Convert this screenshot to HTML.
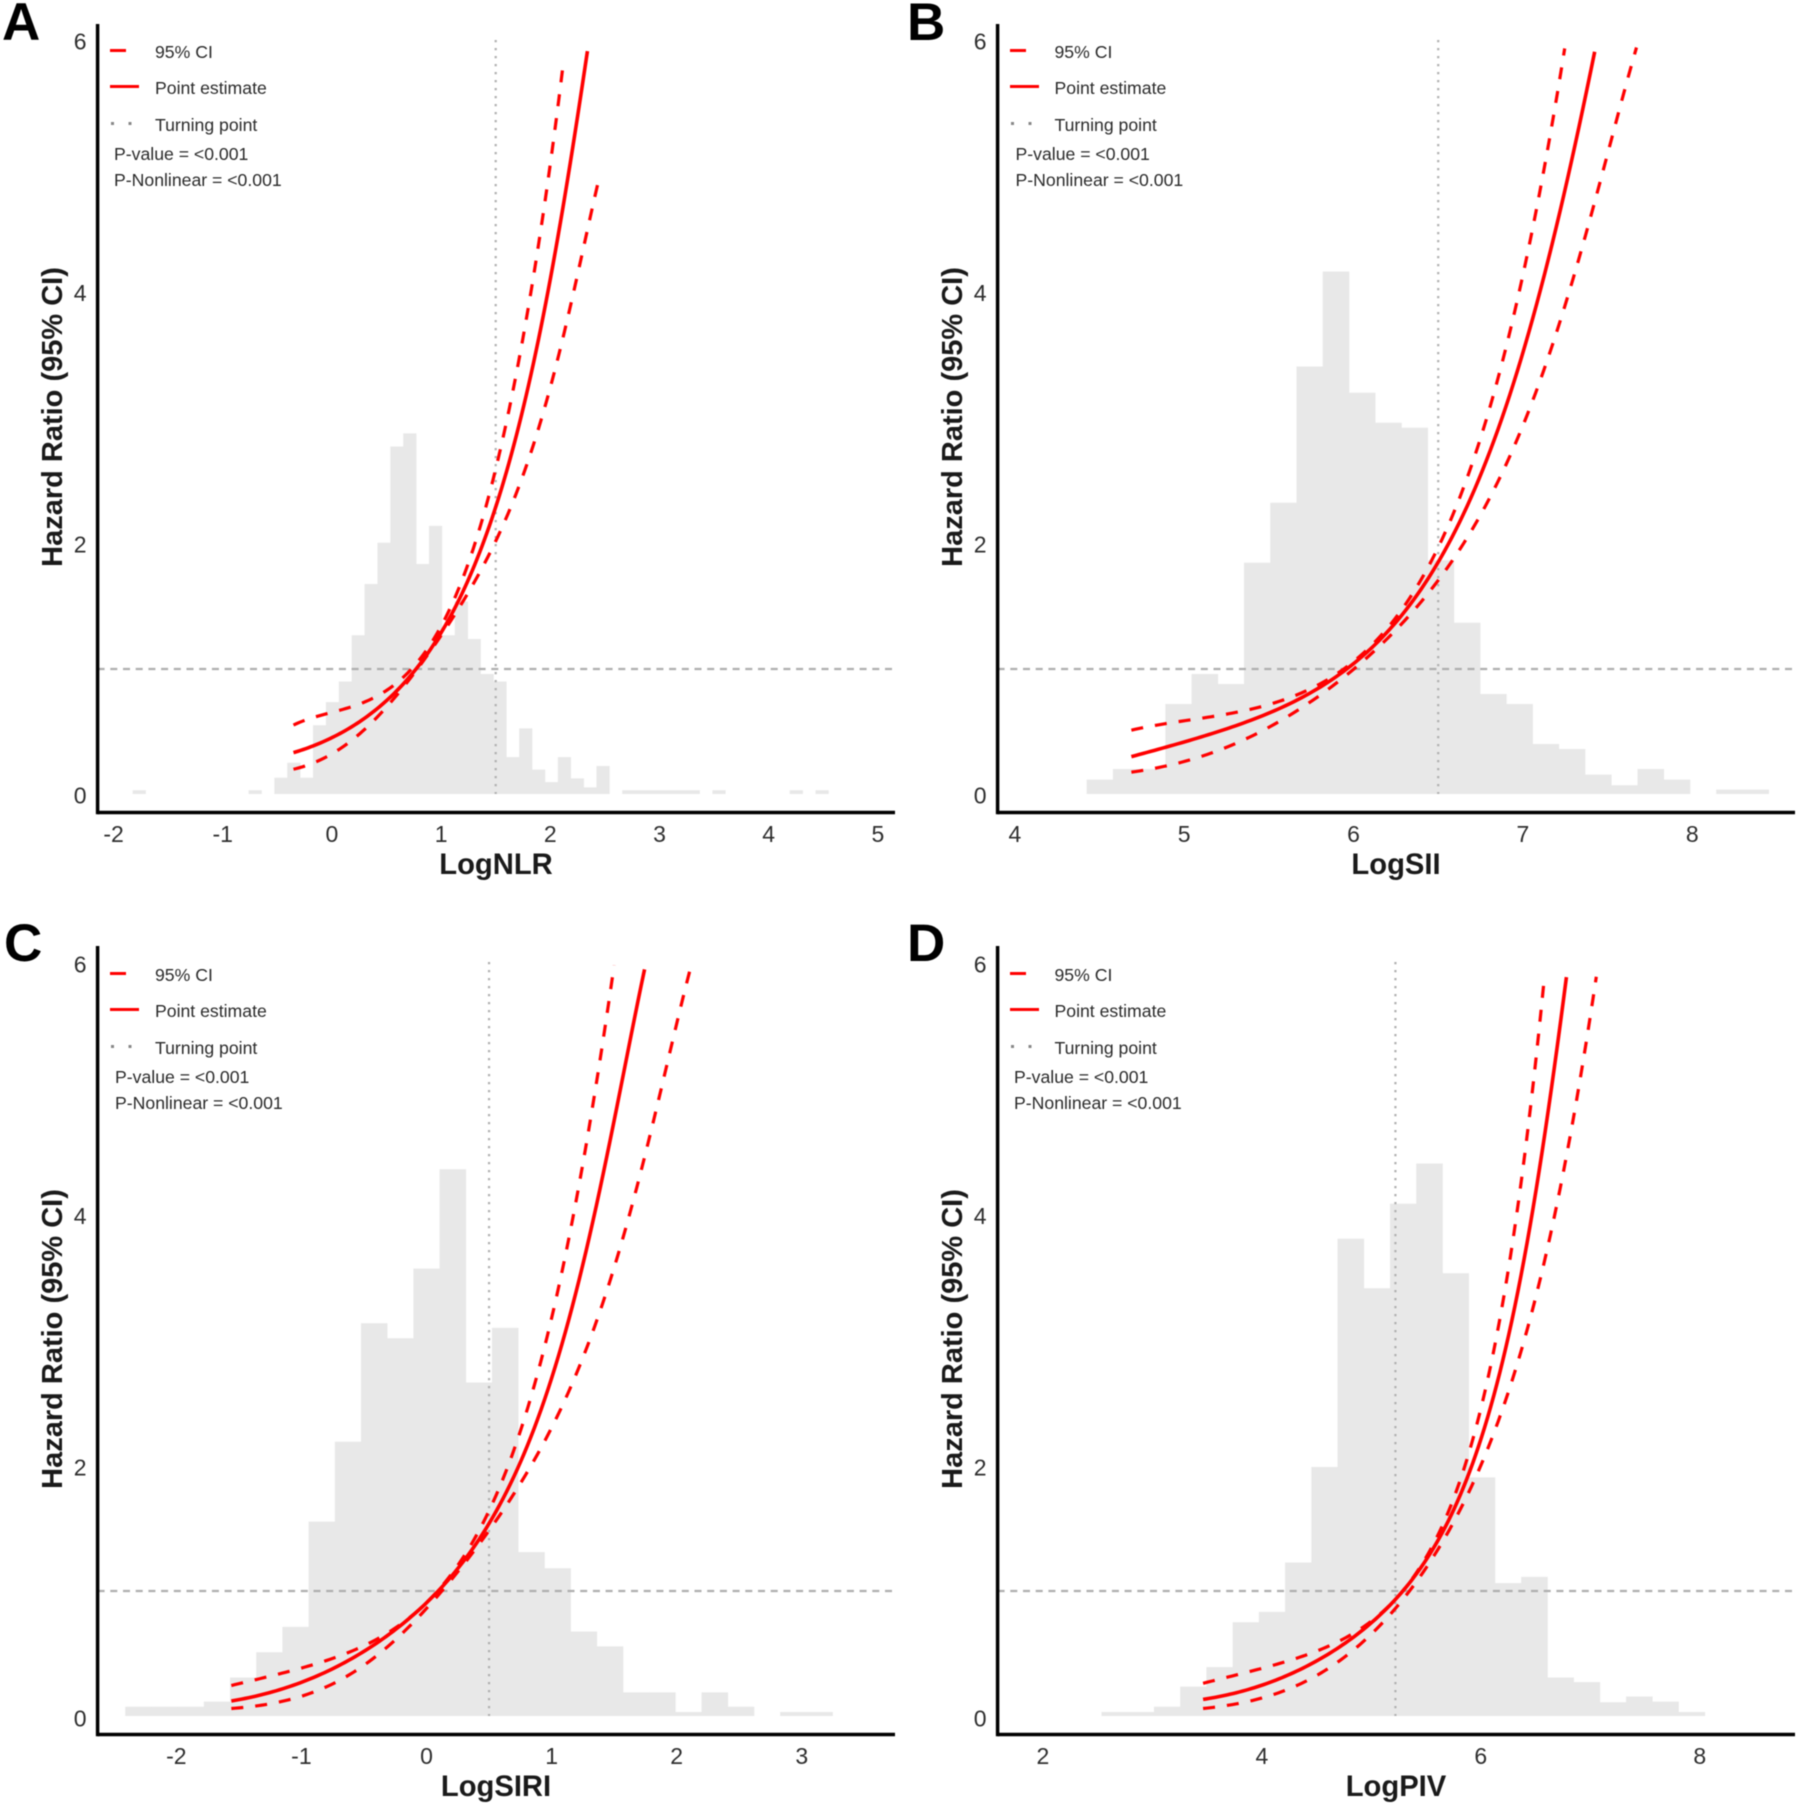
<!DOCTYPE html>
<html lang="en">
<head>
<meta charset="utf-8">
<title>Hazard ratio restricted cubic spline panels</title>
<style>
  html, body { margin: 0; padding: 0; background: #ffffff; }
  body { width: 1800px; height: 1807px; overflow: hidden; }
  svg { display: block; filter: blur(0.55px); font-family: "Liberation Sans", Arial, sans-serif; }
  .letter { font-size: 53px; font-weight: 700; fill: #000; }
  .ytitle, .xtitle { font-size: 29px; font-weight: 700; fill: #1a1a1a; }
  .xtitle { font-size: 29.2px; }
  .legend { font-size: 17.65px; fill: #2b2b2b; }
  .tick { font-size: 23px; fill: #2e2e2e; }
</style>
</head>
<body>
<svg id="chart" xmlns="http://www.w3.org/2000/svg" width="1800" height="1807" viewBox="0 0 1800 1807">
  <rect x="0" y="0" width="1800" height="1807" fill="#fff"/>

  <g id="panel-a">
    <g class="marks"></g>
    <text class="letter" x="2" y="40">A</text>
    <text class="ytitle" text-anchor="middle" transform="translate(62,417) rotate(-90)">Hazard Ratio (95% CI)</text>
    <text class="xtitle" text-anchor="middle" x="496" y="874">LogNLR</text>
    <g>
      <line x1="110" x2="126" y1="50.5" y2="50.5" stroke="#f00" stroke-width="3"/>
      <text class="legend" x="155" y="58">95% CI</text>
      <line x1="110" x2="139" y1="86.5" y2="86.5" stroke="#f00" stroke-width="3"/>
      <text class="legend" x="155" y="94">Point estimate</text>
      <line x1="111" x2="132" y1="123.5" y2="123.5" stroke="#888" stroke-width="3" stroke-dasharray="3 14.5"/>
      <text class="legend" x="155" y="131">Turning point</text>
      <text class="legend" x="114" y="160">P-value = &lt;0.001</text>
      <text class="legend" x="114" y="186">P-Nonlinear = &lt;0.001</text>
    </g>
  </g>

  <g id="panel-b">
    <g class="marks"></g>
    <text class="letter" x="907" y="40">B</text>
    <text class="ytitle" text-anchor="middle" transform="translate(962,417) rotate(-90)">Hazard Ratio (95% CI)</text>
    <text class="xtitle" text-anchor="middle" x="1396" y="874">LogSII</text>
    <g>
      <line x1="1010" x2="1026" y1="50.5" y2="50.5" stroke="#f00" stroke-width="3"/>
      <text class="legend" x="1054.5" y="58">95% CI</text>
      <line x1="1010" x2="1039" y1="86.5" y2="86.5" stroke="#f00" stroke-width="3"/>
      <text class="legend" x="1054.5" y="94">Point estimate</text>
      <line x1="1011" x2="1032" y1="123.5" y2="123.5" stroke="#888" stroke-width="3" stroke-dasharray="3 14.5"/>
      <text class="legend" x="1054.5" y="131">Turning point</text>
      <text class="legend" x="1015.5" y="160">P-value = &lt;0.001</text>
      <text class="legend" x="1015.5" y="186">P-Nonlinear = &lt;0.001</text>
    </g>
  </g>

  <g id="panel-c">
    <g class="marks"></g>
    <text class="letter" x="4" y="961">C</text>
    <text class="ytitle" text-anchor="middle" transform="translate(62,1339) rotate(-90)">Hazard Ratio (95% CI)</text>
    <text class="xtitle" text-anchor="middle" x="496" y="1796">LogSIRI</text>
    <g>
      <line x1="110" x2="126" y1="973.5" y2="973.5" stroke="#f00" stroke-width="3"/>
      <text class="legend" x="155" y="981">95% CI</text>
      <line x1="110" x2="139" y1="1009.5" y2="1009.5" stroke="#f00" stroke-width="3"/>
      <text class="legend" x="155" y="1017">Point estimate</text>
      <line x1="111" x2="132" y1="1046.5" y2="1046.5" stroke="#888" stroke-width="3" stroke-dasharray="3 14.5"/>
      <text class="legend" x="155" y="1054">Turning point</text>
      <text class="legend" x="115" y="1083">P-value = &lt;0.001</text>
      <text class="legend" x="115" y="1109">P-Nonlinear = &lt;0.001</text>
    </g>
  </g>

  <g id="panel-d">
    <g class="marks"></g>
    <text class="letter" x="907" y="961">D</text>
    <text class="ytitle" text-anchor="middle" transform="translate(962,1339) rotate(-90)">Hazard Ratio (95% CI)</text>
    <text class="xtitle" text-anchor="middle" x="1396" y="1796">LogPIV</text>
    <g>
      <line x1="1010" x2="1026" y1="973.5" y2="973.5" stroke="#f00" stroke-width="3"/>
      <text class="legend" x="1054.5" y="981">95% CI</text>
      <line x1="1010" x2="1039" y1="1009.5" y2="1009.5" stroke="#f00" stroke-width="3"/>
      <text class="legend" x="1054.5" y="1017">Point estimate</text>
      <line x1="1011" x2="1032" y1="1046.5" y2="1046.5" stroke="#888" stroke-width="3" stroke-dasharray="3 14.5"/>
      <text class="legend" x="1054.5" y="1054">Turning point</text>
      <text class="legend" x="1014" y="1083">P-value = &lt;0.001</text>
      <text class="legend" x="1014" y="1109">P-Nonlinear = &lt;0.001</text>
    </g>
  </g>
</svg>

<script>
// ---------- shared tick labels ----------
const yTicks = [0, 2, 4, 6];
const referenceHR = 1;

// ---------- panel A: LogNLR ----------
const aXTicks = [-2, -1, 0, 1, 2, 3, 4, 5];
const aTurning = 1.5;
const aHistStart = -1.825;
const aHistWidth = 0.118;
const aHist = [0.03, 0, 0, 0, 0, 0, 0, 0, 0, 0.03, 0, 0.13, 0.25, 0.13, 0.55, 0.735, 0.90, 1.27, 1.68, 2.01, 2.78, 2.885, 1.84, 2.145, 1.27, 1.54, 1.24, 0.96, 0.90, 0.295, 0.525, 0.195, 0.095, 0.295, 0.125, 0.053, 0.224, 0, 0.03, 0.03, 0.03, 0.03, 0.03, 0.03, 0, 0.03, 0, 0, 0, 0, 0, 0.03, 0, 0.03];
const aEstX = [-0.352, 0.011, 0.379, 0.778, 0.988, 1.167, 1.493, 1.740, 1.956, 2.087, 2.219, 2.340];
const aEstY = [0.331, 0.46, 0.649, 1.007, 1.288, 1.555, 2.30, 2.995, 3.878, 4.568, 5.373, 5.936];
const aUpperX = [-0.352, -0.110, 0.105, 0.499, 0.683, 0.962, 1.067, 1.236, 1.372, 1.509, 1.604, 1.756, 1.877, 1.956, 2.061, 2.119];
const aUpperY = [0.552, 0.621, 0.685, 0.837, 0.938, 1.288, 1.458, 1.822, 2.212, 2.594, 2.995, 3.648, 4.338, 4.798, 5.419, 5.846];
const aLowerX = [-0.352, -0.110, 0.105, 0.273, 0.442, 0.578, 0.962, 1.141, 1.283, 1.477, 1.661, 1.814, 2.008, 2.140, 2.324, 2.455];
const aLowerY = [0.198, 0.271, 0.377, 0.497, 0.635, 0.791, 1.233, 1.421, 1.633, 2.010, 2.369, 2.728, 3.303, 3.671, 4.430, 4.959];

// ---------- panel B: LogSII ----------
const bXTicks = [4, 5, 6, 7, 8];
const bTurning = 6.5;
const bHistStart = 4.424;
const bHistWidth = 0.1549;
const bHist = [0.115, 0.2, 0.2, 0.72, 0.96, 0.88, 1.85, 2.33, 3.42, 4.18, 3.21, 2.97, 2.93, 1.87, 1.37, 0.8, 0.72, 0.4, 0.36, 0.155, 0.07, 0.2, 0.115, 0, 0.035, 0.035];
const bEstX = [4.688, 5.017, 5.356, 5.695, 5.898, 6.034, 6.136, 6.271, 6.458, 6.610, 6.712, 6.847, 7.0, 7.153, 7.254, 7.356, 7.424];
const bEstY = [0.299, 0.419, 0.575, 0.787, 0.934, 1.063, 1.187, 1.394, 1.831, 2.153, 2.406, 2.866, 3.51, 4.292, 4.89, 5.488, 5.938];
const bUpperX = [4.688, 4.949, 5.220, 5.492, 5.763, 6.034, 6.237, 6.424, 6.576, 6.695, 6.78, 6.881, 6.966, 7.051, 7.136, 7.22, 7.247];
const bUpperY = [0.511, 0.566, 0.635, 0.727, 0.851, 1.072, 1.371, 1.831, 2.176, 2.636, 3.004, 3.51, 3.924, 4.384, 5.028, 5.764, 5.97];
const bLowerX = [4.688, 4.949, 5.220, 5.492, 5.695, 5.898, 6.136, 6.305, 6.508, 6.678, 6.847, 7.017, 7.153, 7.288, 7.424, 7.559, 7.671];
const bLowerY = [0.175, 0.244, 0.359, 0.52, 0.681, 0.911, 1.164, 1.394, 1.716, 2.038, 2.498, 3.004, 3.51, 4.108, 4.706, 5.442, 5.971];

// ---------- panel C: LogSIRI ----------
const cXTicks = [-2, -1, 0, 1, 2, 3];
const cTurning = 0.5;
const cHistStart = -2.408;
const cHistWidth = 0.2094;
const cHist = [0.074, 0.074, 0.074, 0.115, 0.308, 0.51, 0.713, 1.555, 2.194, 3.142, 3.022, 3.579, 4.374, 2.668, 3.105, 1.311, 1.182, 0.676, 0.557, 0.189, 0.189, 0.032, 0.189, 0.074, 0, 0.032, 0.032];
const cEstX = [-1.56, -1.252, -0.931, -0.61, -0.289, -0.014, 0.216, 0.353, 0.491, 0.72, 0.95, 1.133, 1.317, 1.454, 1.592, 1.743];
const cEstY = [0.12, 0.189, 0.294, 0.455, 0.662, 0.869, 1.145, 1.352, 1.536, 1.95, 2.479, 3.169, 3.905, 4.595, 5.239, 5.97];
const cUpperX = [-1.56, -1.252, -0.931, -0.61, -0.289, -0.105, 0.078, 0.33, 0.537, 0.743, 0.904, 1.041, 1.179, 1.271, 1.362, 1.431, 1.5];
const cUpperY = [0.244, 0.317, 0.40, 0.524, 0.685, 0.787, 0.984, 1.352, 1.697, 2.295, 2.801, 3.353, 3.997, 4.549, 5.055, 5.561, 6.007];
const cLowerX = [-1.56, -1.252, -0.931, -0.61, -0.289, -0.083, 0.216, 0.445, 0.628, 0.812, 0.995, 1.179, 1.362, 1.546, 1.729, 1.913, 2.11];
const cLowerY = [0.06, 0.097, 0.179, 0.34, 0.58, 0.754, 1.122, 1.398, 1.651, 1.973, 2.341, 2.663, 3.192, 3.721, 4.411, 5.147, 5.984];

// ---------- panel D: LogPIV ----------
const dXTicks = [2, 4, 6, 8];
const dTurning = 5.22;
const dHistStart = 2.535;
const dHistWidth = 0.2396;
const dHist = [0.032, 0.032, 0.074, 0.235, 0.391, 0.75, 0.833, 1.228, 1.992, 3.818, 3.422, 4.098, 4.42, 3.542, 1.909, 1.063, 1.113, 0.308, 0.271, 0.11, 0.156, 0.115, 0.032];
const dEstX = [3.463, 3.841, 4.208, 4.575, 4.889, 5.152, 5.309, 5.492, 5.623, 5.807, 5.99, 6.2, 6.358, 6.515, 6.62, 6.698, 6.782];
const dEstY = [0.133, 0.202, 0.317, 0.478, 0.676, 0.869, 1.007, 1.214, 1.421, 1.789, 2.249, 2.847, 3.399, 4.181, 4.917, 5.469, 5.906];
const dUpperX = [3.463, 3.841, 4.26, 4.679, 4.994, 5.204, 5.492, 5.597, 5.755, 5.938, 6.095, 6.2, 6.305, 6.41, 6.489, 6.541, 6.583];
const dUpperY = [0.262, 0.34, 0.455, 0.584, 0.754, 0.915, 1.237, 1.421, 1.789, 2.295, 2.801, 3.307, 3.767, 4.549, 5.193, 5.607, 5.929];
const dLowerX = [3.463, 3.841, 4.26, 4.627, 4.942, 5.152, 5.414, 5.649, 5.886, 6.148, 6.358, 6.567, 6.725, 6.856, 6.961, 7.055];
const dLowerY = [0.06, 0.11, 0.225, 0.386, 0.593, 0.80, 1.099, 1.421, 1.789, 2.249, 2.847, 3.629, 4.273, 4.871, 5.423, 5.906];

const SVGNS = 'http://www.w3.org/2000/svg';

function linearScale(d0, d1, r0, r1) {
  return function (v) { return r0 + (v - d0) * (r1 - r0) / (d1 - d0); };
}

function create(parent, tag, attrs) {
  const el = document.createElementNS(SVGNS, tag);
  for (const k in attrs) el.setAttribute(k, attrs[k]);
  parent.appendChild(el);
  return el;
}

// Least-squares smoothing of the read-off points (log y on x), since the
// hazard ratio curves are smooth on the log scale and hand readings are noisy.
// The two end readings get extra weight so each curve stops where it does in the figure.
function fitLogCurve(xs, ys, degree) {
  const lo = xs[0], hi = xs[xs.length - 1];
  const norm = function (x) { return (2 * x - lo - hi) / (hi - lo); };
  const n = degree + 1;
  const A = [];
  for (let r = 0; r < n; r++) { A.push(new Array(n + 1).fill(0)); }
  xs.forEach(function (x, i) {
    const t = norm(x), ly = Math.log(ys[i]);
    const w = (i === 0 || i === xs.length - 1) ? 12 : 1;
    for (let r = 0; r < n; r++) {
      for (let c = 0; c < n; c++) A[r][c] += w * Math.pow(t, r + c);
      A[r][n] += w * Math.pow(t, r) * ly;
    }
  });
  for (let p = 0; p < n; p++) {
    let best = p;
    for (let r = p + 1; r < n; r++) if (Math.abs(A[r][p]) > Math.abs(A[best][p])) best = r;
    const tmp = A[p]; A[p] = A[best]; A[best] = tmp;
    for (let r = 0; r < n; r++) {
      if (r === p) continue;
      const f = A[r][p] / A[p][p];
      for (let c = p; c <= n; c++) A[r][c] -= f * A[p][c];
    }
  }
  const coef = A.map(function (row, i) { return row[n] / row[i]; });
  return function (x) {
    const t = norm(x);
    let s = 0;
    for (let i = n - 1; i >= 0; i--) s = s * t + coef[i];
    return Math.exp(s);
  };
}

function curvePath(xs, ys, sx, sy) {
  const f = fitLogCurve(xs, ys, 5);
  const lo = xs[0], hi = xs[xs.length - 1], steps = 120;
  let d = '';
  for (let i = 0; i <= steps; i++) {
    const x = lo + (hi - lo) * i / steps;
    d += (i ? 'L' : 'M') + sx(x).toFixed(2) + ' ' + sy(f(x)).toFixed(2);
  }
  return d;
}

function drawPanel(cfg) {
  const g = document.querySelector('#' + cfg.id + ' .marks');
  const dx = cfg.left, dy = cfg.offsetY;
  const axisLeft = dx + 97.6, axisRight = dx + 895;
  const axisTop = dy + 24, axisBottom = dy + 812.5;
  const sx = linearScale(cfg.xDomain[0], cfg.xDomain[1], axisLeft, axisRight);
  const sy = linearScale(0, 6, dy + 794, dy + 44);
  const syLabel = linearScale(0, 6, dy + cfg.labelShift + 803.6, dy + cfg.labelShift + 49.7);

  // histogram
  cfg.hist.forEach(function (h, i) {
    if (h <= 0) return;
    const x0 = sx(cfg.histStart + i * cfg.histWidth);
    const x1 = sx(cfg.histStart + (i + 1) * cfg.histWidth);
    const bar = create(g, 'rect', { x: x0, y: sy(h), width: x1 - x0 + 0.3, height: sy(0) - sy(h), fill: '#e8e8e8' });
    
    
  });

  // reference line HR = 1
  const hline = create(g, 'line', { x1: axisLeft, x2: axisRight, y1: sy(referenceHR), y2: sy(referenceHR), stroke: '#aeaeae', 'stroke-width': 2.2, 'stroke-dasharray': '7 5.7' });
  
  

  // turning point
  const vline = create(g, 'line', { x1: sx(cfg.turning), x2: sx(cfg.turning), y1: sy(6) - 4, y2: sy(0), stroke: '#b0b0b0', 'stroke-width': 2.2, 'stroke-dasharray': '2.2 5.8' });
  
  

  // confidence limits and estimate
  const upper = create(g, 'path', { d: curvePath(cfg.upperX, cfg.upperY, sx, sy), fill: 'none', stroke: '#ff0000', 'stroke-width': 3.2, 'stroke-dasharray': '12 12' });
  
  
  const lower = create(g, 'path', { d: curvePath(cfg.lowerX, cfg.lowerY, sx, sy), fill: 'none', stroke: '#ff0000', 'stroke-width': 3.2, 'stroke-dasharray': '12 12' });
  
  
  const est = create(g, 'path', { d: curvePath(cfg.estX, cfg.estY, sx, sy), fill: 'none', stroke: '#ff0000', 'stroke-width': 3.6 });
  
  

  // axes
  const yAxis = create(g, 'line', { x1: axisLeft, x2: axisLeft, y1: axisTop, y2: axisBottom + 1.75, stroke: '#000', 'stroke-width': 3.5 });
  
  
  const xAxis = create(g, 'line', { x1: axisLeft, x2: axisRight, y1: axisBottom, y2: axisBottom, stroke: '#000', 'stroke-width': 3.5 });
  
  

  // tick labels
  yTicks.forEach(function (t) {
    const lab = create(g, 'text', { class: 'tick', x: dx + 86.5, y: syLabel(t), 'text-anchor': 'end' });
    
    
    lab.textContent = String(t);
  });
  cfg.xTicks.forEach(function (t) {
    const lab = create(g, 'text', { class: 'tick', x: sx(t), y: axisBottom + 29.5, 'text-anchor': 'middle' });
    
    
    lab.textContent = String(t);
  });
}

drawPanel({ id: 'panel-a', left: 0, offsetY: 0, labelShift: 0, xDomain: [-2.146, 5.157], xTicks: aXTicks, turning: aTurning, hist: aHist, histStart: aHistStart, histWidth: aHistWidth, estX: aEstX, estY: aEstY, upperX: aUpperX, upperY: aUpperY, lowerX: aLowerX, lowerY: aLowerY });
drawPanel({ id: 'panel-b', left: 900, offsetY: 0, labelShift: 0, xDomain: [3.898, 8.607], xTicks: bXTicks, turning: bTurning, hist: bHist, histStart: bHistStart, histWidth: bHistWidth, estX: bEstX, estY: bEstY, upperX: bUpperX, upperY: bUpperY, lowerX: bLowerX, lowerY: bLowerY });
drawPanel({ id: 'panel-c', left: 0, offsetY: 922, labelShift: 1, xDomain: [-2.629, 3.745], xTicks: cXTicks, turning: cTurning, hist: cHist, histStart: cHistStart, histWidth: cHistWidth, estX: cEstX, estY: cEstY, upperX: cUpperX, upperY: cUpperY, lowerX: cLowerX, lowerY: cLowerY });
drawPanel({ id: 'panel-d', left: 900, offsetY: 922, labelShift: 1, xDomain: [1.586, 8.870], xTicks: dXTicks, turning: dTurning, hist: dHist, histStart: dHistStart, histWidth: dHistWidth, estX: dEstX, estY: dEstY, upperX: dUpperX, upperY: dUpperY, lowerX: dLowerX, lowerY: dLowerY });
</script>
</body>
</html>
